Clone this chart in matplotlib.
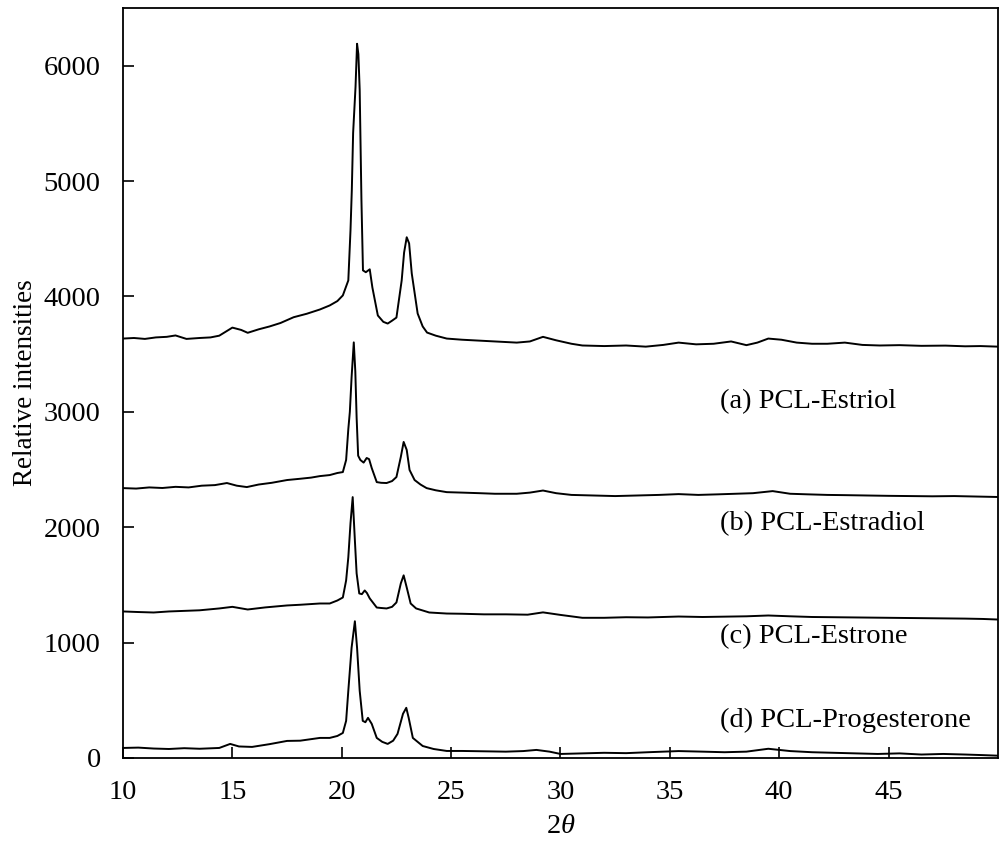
import matplotlib
matplotlib.use("Agg")
import matplotlib.pyplot as plt

plt.rcParams['font.family'] = ['Liberation Serif', 'DejaVu Serif']
plt.rcParams['mathtext.fontset'] = 'custom'
plt.rcParams['mathtext.rm'] = 'Liberation Serif'
plt.rcParams['mathtext.it'] = 'Liberation Serif:italic'

# (a) PCL-Estriol
x_a = [10, 10.5, 11, 11.5, 12, 12.4, 12.9, 13.5, 14, 14.4, 15.0, 15.4, 15.7, 16.2, 16.7, 17.2, 17.8, 18.4,
       19.0, 19.45, 19.8, 20.05, 20.3, 20.4, 20.46, 20.52, 20.63, 20.7, 20.76, 20.82, 20.9, 20.97, 21.1,
       21.28, 21.4, 21.65, 21.9, 22.1, 22.3, 22.5, 22.74, 22.85, 22.97, 23.08, 23.2, 23.47, 23.7, 23.9,
       24.3, 24.8, 25.5, 26, 27, 28, 28.6, 29.2, 29.8, 30.5, 31, 32, 33, 33.9, 34.7, 35.4, 36.2, 37, 37.8,
       38.5, 39.0, 39.5, 40.1, 40.8, 41.5, 42.2, 43.0, 43.8, 44.6, 45.5, 46.5, 47.6, 48.5, 49.2, 50]
y_a = [3635, 3640, 3632, 3645, 3650, 3662, 3632, 3640, 3645, 3660, 3730, 3710, 3685, 3715, 3740, 3770, 3820, 3850,
       3887, 3922, 3960, 4009, 4139, 4574, 4922, 5417, 5817, 6190, 6100, 5791, 4835, 4226, 4210,
       4235, 4078, 3835, 3780, 3765, 3790, 3817, 4139, 4380, 4513, 4460, 4200, 3852, 3740, 3687,
       3660, 3635, 3625, 3620, 3610, 3600, 3610, 3650, 3620, 3590, 3575, 3570, 3575, 3565, 3580, 3600, 3585, 3590, 3610,
       3578, 3600, 3635, 3625, 3600, 3590, 3590, 3600, 3580, 3575, 3578, 3572, 3574, 3568, 3570, 3565]

# (b) PCL-Estradiol
x_b = [10, 10.6, 11.2, 11.8, 12.4, 13, 13.6, 14.2, 14.75, 15.2, 15.66, 16.2, 16.8, 17.5, 18.1, 18.6, 19.0,
       19.45, 19.8, 20.05, 20.2, 20.3, 20.37, 20.45, 20.55, 20.62, 20.68, 20.75, 20.85, 21.0, 21.14, 21.25,
       21.37, 21.6, 21.8, 22.05, 22.3, 22.5, 22.7, 22.83, 22.97, 23.1, 23.33, 23.6, 23.88, 24.3, 24.8, 25.5,
       26.3, 27, 28, 28.6, 29.2, 29.8, 30.5, 31.5, 32.5, 33.5, 34.5, 35.4, 36.3, 37.2, 38, 38.8, 39.7, 40.5,
       41.3, 42.2, 43, 44, 45, 46, 47, 48, 49, 50]
y_b = [2339, 2335, 2345, 2340, 2350, 2345, 2360, 2365, 2383, 2360, 2348, 2370, 2385, 2409, 2420, 2430, 2443,
       2452, 2470, 2478, 2583, 2850, 3000, 3300, 3602, 3350, 2950, 2620, 2583, 2560, 2600, 2590,
       2513, 2391, 2385, 2383, 2400, 2435, 2609, 2739, 2670, 2496, 2409, 2370, 2339, 2320, 2304, 2300,
       2295, 2290, 2290, 2300, 2318, 2295, 2280, 2275, 2270, 2275, 2280, 2287, 2280, 2285, 2290, 2295, 2313, 2290,
       2285, 2280, 2278, 2275, 2272, 2270, 2268, 2270, 2266, 2262]

# (c) PCL-Estrone
x_c = [10, 10.7, 11.4, 12.1, 12.8, 13.5, 14.4, 15.0, 15.7, 16.5, 17.5, 18.1, 19.0, 19.45, 19.8, 20.05, 20.2,
       20.3, 20.4, 20.5, 20.6, 20.68, 20.8, 20.92, 21.05, 21.15, 21.28, 21.6, 21.8, 22.05, 22.3, 22.5, 22.7,
       22.83, 22.97, 23.15, 23.4, 24.0, 24.8, 25.5, 26.5, 27.5, 28.5, 29.2, 30, 31, 32, 33, 34, 35.4, 36.5,
       37.5, 38.5, 39.5, 40.5, 41.5, 42.5, 43.5, 44.5, 45.5, 46.5, 47.5, 48.5, 49.3, 50]
y_c = [1270, 1265, 1261, 1270, 1275, 1280, 1296, 1310, 1287, 1305, 1322, 1328, 1339, 1339, 1365, 1391, 1539,
       1739, 2035, 2261, 1887, 1600, 1426, 1420, 1452, 1430, 1383, 1304, 1300, 1296, 1310, 1348, 1513,
       1583, 1478, 1339, 1296, 1261, 1252, 1250, 1245, 1245, 1242, 1262, 1240, 1215, 1215, 1220, 1218, 1226, 1222,
       1225, 1228, 1235, 1228, 1222, 1220, 1218, 1216, 1214, 1212, 1210, 1208, 1205, 1200]

# (d) PCL-Progesterone
x_d = [10, 10.7, 11.4, 12.1, 12.8, 13.5, 14.4, 14.9, 15.3, 15.9, 16.7, 17.5, 18.1, 19.0, 19.45, 19.8, 20.05,
       20.2, 20.3, 20.45, 20.6, 20.7, 20.82, 20.96, 21.08, 21.2, 21.37, 21.6, 21.85, 22.1, 22.35, 22.55, 22.8,
       22.95, 23.06, 23.25, 23.7, 24.2, 24.8, 25.5, 26.5, 27.5, 28.3, 28.9, 29.5, 30, 31, 32, 33, 34, 35.4,
       36.5, 37.5, 38.5, 39.5, 40.5, 41.5, 42.5, 43.5, 44.5, 45.5, 46.5, 47.5, 48.5, 49.3, 50]
y_d = [87, 90, 82, 78, 85, 80, 87, 122, 100, 96, 120, 148, 150, 174, 174, 191, 217,
       322, 583, 956, 1185, 956, 583, 322, 310, 348, 296, 174, 140, 122, 150, 209, 383,
       435, 348, 174, 104, 78, 61, 61, 58, 55, 60, 70, 55, 35, 40, 45, 42, 50, 60,
       55, 50, 55, 80, 60, 50, 45, 40, 35, 40, 30, 35, 30, 25, 20]

labels = ["(a) PCL-Estriol", "(b) PCL-Estradiol", "(c) PCL-Estrone", "(d) PCL-Progesterone"]
label_y = [3085, 2035, 1055, 325]
label_x = 37.3

x_ticks = [10, 15, 20, 25, 30, 35, 40, 45]
y_ticks = [0, 1000, 2000, 3000, 4000, 5000, 6000]

FS = 20.5

fig = plt.figure(figsize=(10.05, 8.41), dpi=100)
ax = fig.add_axes([0.1224, 0.0987, 0.8706, 0.8918])

for xs, ys in [(x_a, y_a), (x_b, y_b), (x_c, y_c), (x_d, y_d)]:
    ax.plot(xs, ys, color='black', lw=1.4)

for lab, ly in zip(labels, label_y):
    ax.text(label_x, ly, lab, fontsize=FS, va='center', ha='left')

ax.set_xlim(10, 50)
ax.set_ylim(0, 6500)
ax.set_xticks(x_ticks)
ax.set_yticks(y_ticks)
ax.tick_params(direction='in', length=8, width=1.2, labelsize=FS)
ax.tick_params(axis='y', pad=16)
ax.tick_params(axis='x', pad=16)
for s in ax.spines.values():
    s.set_linewidth(1.3)

ax.set_xlabel(r'$2\theta$', fontsize=FS, labelpad=6)
ax.set_ylabel('Relative intensities', fontsize=19.5, labelpad=4)

fig.savefig('out.png', dpi=100)
